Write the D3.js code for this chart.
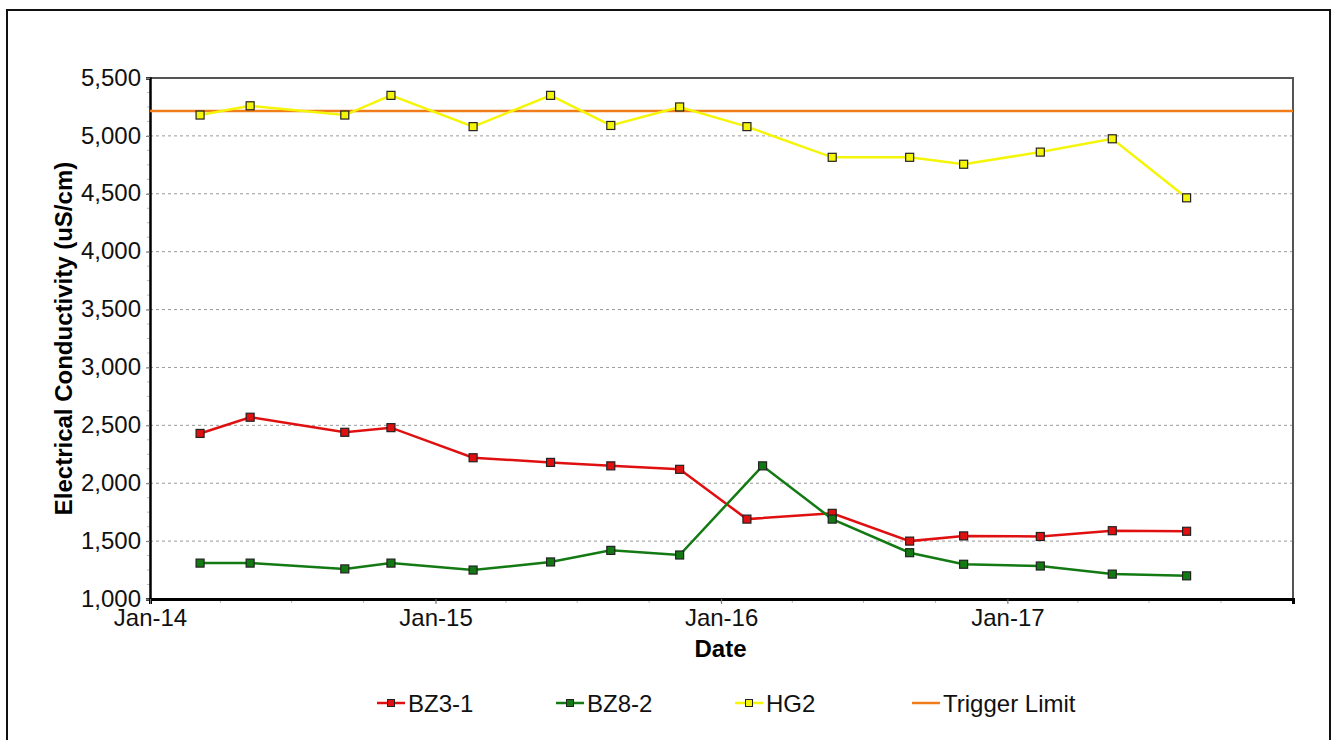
<!DOCTYPE html>
<html>
<head>
<meta charset="utf-8">
<script src="https://cdn.jsdelivr.net/npm/d3@7"></script>
<style>
  body { margin: 0; background: #fff; }
  svg { display: block; font-family: "Liberation Sans", Arial, sans-serif; }
</style>
</head>
<body>
<script>
// sample dates (BZ3-1 and HG2 share them; BZ8-2 was sampled a bit later in Feb-16)
const sampleDates = ['2014-03-06', '2014-05-09', '2014-09-07', '2014-11-05', '2015-02-18', '2015-05-28',
    '2015-08-13', '2015-11-09', '2016-02-03', '2016-05-22', '2016-08-29', '2016-11-06',
    '2017-02-12', '2017-05-15', '2017-08-18']
const bz82Dates = ['2014-03-06', '2014-05-09', '2014-09-07', '2014-11-05', '2015-02-18', '2015-05-28',
    '2015-08-13', '2015-11-09', '2016-02-23', '2016-05-22', '2016-08-29', '2016-11-06',
    '2017-02-12', '2017-05-15', '2017-08-18']
const bz31 = [2430, 2570, 2440, 2480, 2220, 2180, 2150, 2120, 1690, 1740, 1500, 1545, 1540, 1590, 1585]
const bz82 = [1310, 1310, 1260, 1310, 1250, 1320, 1420, 1380, 2150, 1690, 1400, 1300, 1285, 1215, 1200]
const hg2 = [5180, 5260, 5180, 5350, 5080, 5350, 5090, 5250, 5080, 4815, 4815, 4755, 4860, 4975, 4465]
const triggerLimit = 5215
const yTicks = [1000, 1500, 2000, 2500, 3000, 3500, 4000, 4500, 5000, 5500]
const xTickLabels = ['Jan-14', 'Jan-15', 'Jan-16', 'Jan-17']

const W = 1337, H = 740
const m = { left: 150, right: 1293, top: 78, bottom: 599 }
const parse = d3.timeParse('%Y-%m-%d')
const FONT = '"Liberation Sans", Arial, sans-serif'

const series = [
    { name: 'BZ3-1', color: '#e01010', dates: sampleDates, values: bz31 },
    { name: 'BZ8-2', color: '#137a13', dates: bz82Dates, values: bz82 },
    { name: 'HG2', color: '#f5f50a', dates: sampleDates, values: hg2 }
]

const svg = d3.select('body').append('svg')
    .attr('width', W).attr('height', H)

// outer frame
svg.append('rect')
    .attr('x', 7).attr('y', 10).attr('width', 1323).attr('height', 760)
    .attr('fill', 'none').attr('stroke', '#111').attr('stroke-width', 2)

const x = d3.scaleTime()
    .domain([new Date(2014, 0, 1), new Date(2018, 0, 1)])
    .range([m.left, m.right])
const y = d3.scaleLinear().domain([1000, 5500]).range([m.bottom, m.top])

// gridlines
svg.append('g').selectAll('line')
    .data(yTicks.slice(1, -1))
    .enter().append('line')
    .attr('x1', m.left).attr('x2', m.right)
    .attr('y1', d => y(d)).attr('y2', d => y(d))
    .attr('stroke', '#999').attr('stroke-dasharray', '3,3')

// plot frame top/right
svg.append('path')
    .attr('d', `M${m.left},${m.top}H${m.right}V${m.bottom}`)
    .attr('fill', 'none').attr('stroke', '#555').attr('stroke-width', 2)

// minor ticks
svg.append('g').selectAll('line')
    .data(d3.range(1000, 5501, 125))
    .enter().append('line')
    .attr('x1', m.left - 3).attr('x2', m.left)
    .attr('y1', d => y(d)).attr('y2', d => y(d))
    .attr('stroke', '#bbb')
svg.append('g').selectAll('line')
    .data(d3.timeMonth.every(3).range(new Date(2014, 0, 1), new Date(2018, 0, 2)))
    .enter().append('line')
    .attr('x1', d => x(d)).attr('x2', d => x(d))
    .attr('y1', m.bottom).attr('y2', m.bottom + 4)
    .attr('stroke', '#bbb')

// y axis
const yAxis = svg.append('g')
    .attr('transform', `translate(${m.left},0)`)
    .call(d3.axisLeft(y).tickValues(yTicks).tickFormat(d3.format(',')).tickSize(4).tickPadding(5))
yAxis.select('.domain').attr('stroke', '#000').attr('stroke-width', 2.5)
yAxis.selectAll('.tick line').attr('stroke', '#777')
yAxis.selectAll('.tick text').attr('font-size', 24).attr('fill', '#111')
    .attr('font-family', FONT).attr('dy', '0.3em')

// x axis
const xTickDates = xTickLabels.map((d, i) => new Date(2014 + i, 0, 1))
const xAxis = svg.append('g')
    .attr('transform', `translate(0,${m.bottom})`)
    .call(d3.axisBottom(x).tickValues(xTickDates).tickFormat((d, i) => xTickLabels[i]).tickSize(5).tickPadding(6))
xAxis.select('.domain').attr('stroke', '#000').attr('stroke-width', 3)
xAxis.selectAll('.tick line').attr('stroke', '#777')
xAxis.selectAll('.tick text').attr('font-size', 24).attr('fill', '#111')
    .attr('font-family', FONT).attr('dy', '0.68em')

// axis titles
svg.append('text')
    .attr('x', (m.left + m.right) / 2 - 1).attr('y', 657)
    .attr('text-anchor', 'middle').attr('font-size', 24).attr('font-weight', 'bold')
    .text('Date')
svg.append('text')
    .attr('transform', `translate(72,${(m.top + m.bottom) / 2}) rotate(-90)`)
    .attr('text-anchor', 'middle').attr('font-size', 24).attr('font-weight', 'bold')
    .text('Electrical Conductivity (uS/cm)')

// trigger limit
svg.append('line')
    .attr('x1', m.left).attr('x2', m.right)
    .attr('y1', y(triggerLimit)).attr('y2', y(triggerLimit))
    .attr('stroke', '#f07d1a').attr('stroke-width', 2.5)

const line = d3.line().x(d => x(d.date)).y(d => y(d.value))

series.forEach(s => {
    const pts = s.values.map((v, i) => ({ date: parse(s.dates[i]), value: v }))
    const g = svg.append('g')
    g.append('path')
        .datum(pts)
        .attr('d', line)
        .attr('fill', 'none').attr('stroke', s.color).attr('stroke-width', 2.5)
    g.selectAll('rect')
        .data(pts)
        .enter().append('rect')
        .attr('x', d => x(d.date) - 4).attr('y', d => y(d.value) - 4)
        .attr('width', 8).attr('height', 8)
        .attr('fill', s.color).attr('stroke', '#222').attr('stroke-width', 1.2)
})

// legend
const legendItems = [
    { name: 'BZ3-1', color: '#e01010', marker: true, x: 377 },
    { name: 'BZ8-2', color: '#137a13', marker: true, x: 556 },
    { name: 'HG2', color: '#f5f50a', marker: true, x: 735 },
    { name: 'Trigger Limit', color: '#f07d1a', marker: false, x: 912 }
]
const legend = svg.append('g')
legendItems.forEach(it => {
    const g = legend.append('g').attr('transform', `translate(${it.x},703)`)
    g.append('line').attr('x1', 0).attr('x2', 28).attr('y1', 0).attr('y2', 0)
        .attr('stroke', it.color).attr('stroke-width', 2.5)
    if (it.marker) {
        g.append('rect').attr('x', 10.5).attr('y', -3.5).attr('width', 7).attr('height', 7)
            .attr('fill', it.color).attr('stroke', '#222').attr('stroke-width', 1)
    }
    g.append('text').attr('x', 31).attr('y', 8.5)
        .attr('font-size', 24).attr('fill', '#111')
        .text(it.name)
})
</script>
</body>
</html>
